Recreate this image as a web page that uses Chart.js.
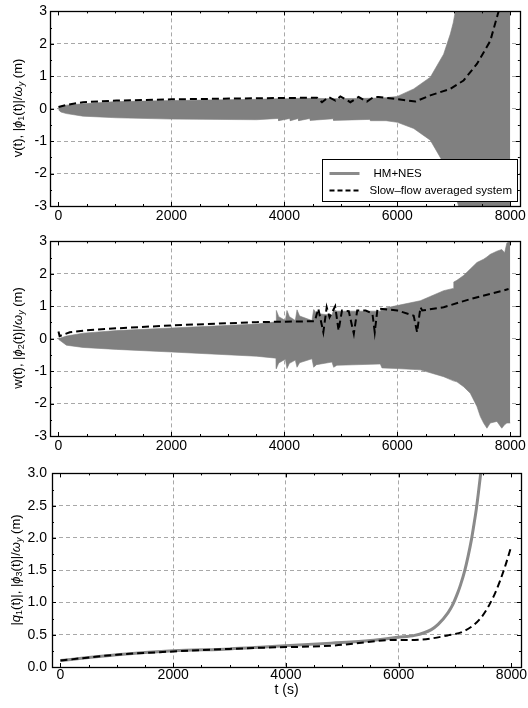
<!DOCTYPE html>
<html><head><meta charset="utf-8">
<script src="https://cdn.jsdelivr.net/npm/chart.js@4.4.1/dist/chart.umd.min.js"></script>
<style>
html,body{margin:0;padding:0;background:#fff}
body{width:528px;height:708px;overflow:hidden;position:relative;font-family:"Liberation Sans",Arial,sans-serif}
canvas{position:absolute;left:0}
.yt{position:absolute;transform:translate(-50%,-50%) rotate(-90deg);white-space:nowrap;font-size:13px;color:#000;line-height:1}
.yt sub{font-size:9px;vertical-align:-2px}
</style></head><body>
<canvas id="c1" width="528" height="230" style="top:0"></canvas>
<canvas id="c2" width="528" height="230" style="top:230px"></canvas>
<canvas id="c3" width="528" height="248" style="top:460px"></canvas>
<div class="yt" style="left:18px;top:108px">v(t), |<i>ϕ</i><sub>1</sub>(t)|/<i>ω</i><sub><i>y</i></sub> (m)</div>
<div class="yt" style="left:18px;top:338px">w(t), |<i>ϕ</i><sub>2</sub>(t)|/<i>ω</i><sub><i>y</i></sub> (m)</div>
<div class="yt" style="left:16px;top:570px">|<i>q</i><sub>1</sub>(t)|, |<i>ϕ</i><sub>3</sub>(t)|/<i>ω</i><sub><i>y</i></sub> (m)</div>
<script>
// ---------- data ----------
const xTicks = [0, 2000, 4000, 6000, 8000];
const yTicksTop = [-3, -2, -1, 0, 1, 2, 3];
const yTicksBottom = [0.0, 0.5, 1.0, 1.5, 2.0, 2.5, 3.0];
const legendLabels = ["HM+NES", "Slow\u2013flow averaged system"];
const xTitle = "t (s)";

// Panel 1: HM+NES oscillation envelope (upper / lower, common time grid) and slow-flow amplitude
const t1Env   = [0, 40, 140, 435, 1030, 2000, 3506, 3895, 3900, 4100, 4106, 4250, 4254, 4455, 4460, 4868, 4873, 5515, 5522, 5800, 6000, 6290, 6584, 6820, 6938, 6990, 7027, 7086, 7150, 8000];
const v1Upper = [0.02, 0.07, 0.11, 0.15, 0.22, 0.25, 0.29, 0.31, 0.31, 0.31, 0.31, 0.32, 0.32, 0.32, 0.32, 0.31, 0.31, 0.32, 0.32, 0.34, 0.38, 0.61, 0.97, 1.68, 2.3, 2.65, 3.0, 3.4, 3.6, 3.6];
const v1Lower = [-0.03, -0.1, -0.15, -0.23, -0.28, -0.32, -0.34, -0.3, -0.37, -0.3, -0.37, -0.3, -0.37, -0.3, -0.36, -0.31, -0.36, -0.33, -0.37, -0.37, -0.42, -0.61, -0.97, -1.68, -2.05, -2.4, -2.7, -3.0, -3.6, -3.6];
const t1Slow = [0, 150, 435, 1030, 2000, 3500, 4000, 4577, 4666, 4784, 4903, 4991, 5168, 5315, 5462, 5580, 5669, 6112, 6319, 6584, 6938, 7173, 7409, 7646, 7793, 7850];
const v1Slow = [0.05, 0.12, 0.2, 0.25, 0.29, 0.32, 0.33, 0.34, 0.2, 0.36, 0.25, 0.38, 0.2, 0.36, 0.22, 0.36, 0.36, 0.27, 0.22, 0.41, 0.61, 0.87, 1.38, 2.09, 3.0, 3.4];

// Panel 2
const t2Env   = [0, 140, 435, 1030, 2000, 3506, 3855, 3858, 3900, 4018, 4046, 4090, 4194, 4224, 4270, 4489, 4519, 4570, 4843, 4873, 4930, 5699, 5728, 5994, 6407, 6820, 6990, 7000, 7055, 7174, 7292, 7410, 7470, 7528, 7587, 7646, 7764, 7850, 7900, 7940, 8000];
const v2Upper = [0.0, 0.08, 0.17, 0.25, 0.33, 0.45, 0.52, 0.87, 0.68, 0.56, 0.87, 0.68, 0.56, 0.89, 0.7, 0.56, 0.9, 0.78, 0.72, 0.9, 0.85, 0.85, 0.92, 1.02, 1.17, 1.48, 1.55, 1.75, 1.8, 1.95, 2.15, 2.35, 2.4, 2.45, 2.52, 2.6, 2.7, 2.75, 2.65, 2.95, 3.0];
const v2Lower = [-0.02, -0.2, -0.27, -0.33, -0.41, -0.54, -0.6, -0.92, -0.75, -0.63, -0.92, -0.76, -0.66, -0.88, -0.74, -0.62, -0.88, -0.8, -0.72, -0.88, -0.82, -0.78, -0.9, -0.92, -0.96, -1.17, -1.3, -1.3, -1.33, -1.48, -1.68, -2.09, -2.4, -2.6, -2.76, -2.6, -2.55, -2.76, -2.65, -2.6, -2.6];
const t2Slow = [0, 20, 200, 500, 1030, 2000, 3500, 4540, 4600, 4690, 4750, 4800, 4900, 4960, 5020, 5140, 5230, 5290, 5440, 5560, 5600, 5650, 6000, 6290, 6350, 6410, 6440, 6820, 7290, 7760, 7970];
const v2Slow = [0.22, 0.08, 0.2, 0.26, 0.32, 0.41, 0.51, 0.54, 0.93, 0.2, 0.97, 0.66, 1.0, 0.25, 0.87, 0.85, 0.15, 0.87, 0.87, 0.77, 0.2, 0.93, 0.87, 0.71, 0.2, 0.97, 0.87, 0.97, 1.22, 1.43, 1.53];

// Panel 3
const t3Hm = [0, 1000, 2000, 3000, 3618, 4802, 5500, 5986, 6283, 6579, 6700, 6874, 6950, 7052, 7100, 7171, 7230, 7290, 7330, 7378, 7420, 7455, 7480];
const v3Hm = [0.1, 0.19, 0.25, 0.28, 0.31, 0.37, 0.41, 0.46, 0.49, 0.58, 0.66, 0.84, 0.95, 1.16, 1.28, 1.49, 1.71, 1.97, 2.18, 2.45, 2.74, 3.0, 3.2];
const t3Slow = [0, 1000, 2000, 3000, 3618, 4802, 5986, 6283, 6874, 7171, 7467, 7703, 7881, 7990];
const v3Slow = [0.1, 0.19, 0.24, 0.28, 0.3, 0.33, 0.42, 0.42, 0.49, 0.56, 0.77, 1.13, 1.54, 1.85];

// ---------- helpers ----------
const FONT = '"Liberation Sans", Arial, sans-serif';
Chart.defaults.font.family = FONT;
Chart.defaults.color = '#000';
const GRAY = '#808080';
const pts = (t, v) => t.map((x, i) => ({x, y: v[i]}));

const framePlugin = {
  id: 'frame',
  afterDatasetsDraw(chart, args, o) {
    const {ctx, chartArea: a, scales: {x, y}} = chart;
    ctx.save();
    ctx.strokeStyle = '#000';
    ctx.lineWidth = 1;
    ctx.beginPath();
    for (let k = 0; k * o.xMinor <= o.xMax; k++) {
      const v = k * o.xMinor;
      const px = Math.round(x.getPixelForValue(v)) + 0.5;
      const len = (k % o.xRatio === 0) ? 4 : 2;
      ctx.moveTo(px, a.bottom); ctx.lineTo(px, a.bottom - len);
      ctx.moveTo(px, a.top); ctx.lineTo(px, a.top + len);
    }
    for (let k = 0; o.yMin + k * o.yMinor <= o.yMax + 1e-9; k++) {
      const v = o.yMin + k * o.yMinor;
      const py = Math.round(y.getPixelForValue(v)) + 0.5;
      const len = (k % o.yRatio === 0) ? 4 : 2;
      ctx.moveTo(a.left, py); ctx.lineTo(a.left + len, py);
      ctx.moveTo(a.right, py); ctx.lineTo(a.right - len, py);
    }
    ctx.stroke();
    ctx.lineWidth = 1.3;
    ctx.strokeRect(Math.round(a.left) + 0.5, Math.round(a.top) + 0.5, Math.round(a.right - a.left), Math.round(a.bottom - a.top));
    ctx.restore();
  }
};

const legendPlugin = {
  id: 'boxLegend',
  afterDraw(chart, args, o) {
    if (!o.show) return;
    const {ctx, chartArea: a} = chart;
    const w = 195, h = 42;
    const L = Math.round(a.right - 3 - w) + 0.5, T = Math.round(a.bottom - 5 - h) + 0.5;
    ctx.save();
    ctx.fillStyle = '#fff';
    ctx.fillRect(L, T, w, h);
    ctx.strokeStyle = '#000'; ctx.lineWidth = 1;
    ctx.strokeRect(L, T, w, h);
    ctx.strokeStyle = '#8a8a8a'; ctx.lineWidth = 3;
    ctx.beginPath(); ctx.moveTo(L + 7, T + 14); ctx.lineTo(L + 37, T + 14); ctx.stroke();
    ctx.strokeStyle = '#000'; ctx.lineWidth = 2; ctx.setLineDash([5, 3]);
    ctx.beginPath(); ctx.moveTo(L + 7, T + 31); ctx.lineTo(L + 37, T + 31); ctx.stroke();
    ctx.setLineDash([]);
    ctx.fillStyle = '#000';
    ctx.font = '11.5px ' + FONT;
    ctx.textBaseline = 'middle';
    ctx.fillText(legendLabels[0], L + 51, T + 14);
    ctx.fillText(legendLabels[1], L + 47, T + 31);
    ctx.restore();
  }
};

function xScale(height, pad, opts = {}) {
  return Object.assign({
    type: 'linear', min: -150, max: 8170,
    afterBuildTicks: s => { s.ticks = xTicks.map(v => ({value: v})); },
    afterFit: s => { s.height = height; },
    ticks: {padding: pad, font: {size: 14}, color: '#000', maxRotation: 0, autoSkip: false, callback: v => String(v)},
    grid: {drawTicks: false, lineWidth: 1,
      color: c => (c.tick && (c.tick.value === 0 || c.tick.value === 8000)) ? 'rgba(0,0,0,0)' : '#a8a8a8'},
    border: {display: false, dash: [4, 3]}
  }, opts);
}
function yScale(width, min, max, ticks, pad, fmt) {
  return {
    type: 'linear', min, max,
    afterBuildTicks: s => { s.ticks = ticks.map(v => ({value: v})); },
    afterFit: s => { s.width = width; },
    ticks: {padding: pad, font: {size: 14}, color: '#000', autoSkip: false, callback: fmt},
    grid: {drawTicks: false, lineWidth: 1,
      color: c => (c.tick && (c.tick.value === min || c.tick.value === max)) ? 'rgba(0,0,0,0)' : '#a8a8a8'},
    border: {display: false, dash: [4, 3]}
  };
}
function envelopeDatasets(te, vu, vl, ts, vs) {
  return [
    {data: pts(ts, vs), borderColor: '#000', borderWidth: 2, borderDash: [7, 4], pointRadius: 0, fill: false, tension: 0},
    {data: pts(te, vu), borderColor: GRAY, backgroundColor: GRAY, borderWidth: 0.6, pointRadius: 0, fill: '+1', tension: 0},
    {data: pts(te, vl), borderColor: GRAY, backgroundColor: GRAY, borderWidth: 0.6, pointRadius: 0, fill: false, tension: 0}
  ];
}
const common = {
  responsive: false, animation: false, events: [],
  plugins: {legend: {display: false}, tooltip: {enabled: false}}
};

new Chart(document.getElementById('c1'), {
  type: 'line',
  data: {datasets: envelopeDatasets(t1Env, v1Upper, v1Lower, t1Slow, v1Slow)},
  options: Object.assign({}, common, {
    layout: {padding: {top: 10, right: 8, left: 0, bottom: 0}},
    scales: {x: xScale(24, 2), y: yScale(50, -3, 3, yTicksTop, 3, v => String(v))},
    plugins: Object.assign({}, common.plugins, {
      frame: {xMinor: 500, xRatio: 4, xMax: 8000, yMin: -3, yMax: 3, yMinor: 0.5, yRatio: 2},
      boxLegend: {show: true}
    })
  }),
  plugins: [framePlugin, legendPlugin]
});

new Chart(document.getElementById('c2'), {
  type: 'line',
  data: {datasets: envelopeDatasets(t2Env, v2Upper, v2Lower, t2Slow, v2Slow)},
  options: Object.assign({}, common, {
    layout: {padding: {top: 10, right: 8, left: 0, bottom: 0}},
    scales: {x: xScale(24, 2), y: yScale(50, -3, 3, yTicksTop, 3, v => String(v))},
    plugins: Object.assign({}, common.plugins, {
      frame: {xMinor: 500, xRatio: 4, xMax: 8000, yMin: -3, yMax: 3, yMinor: 0.5, yRatio: 2},
      boxLegend: {show: false}
    })
  }),
  plugins: [framePlugin, legendPlugin]
});

new Chart(document.getElementById('c3'), {
  type: 'line',
  data: {datasets: [
    {data: pts(t3Slow, v3Slow), borderColor: '#000', borderWidth: 2, borderDash: [7, 4], pointRadius: 0, fill: false, cubicInterpolationMode: 'monotone'},
    {data: pts(t3Hm, v3Hm), borderColor: '#8a8a8a', borderWidth: 3, pointRadius: 0, fill: false, cubicInterpolationMode: 'monotone'}
  ]},
  options: Object.assign({}, common, {
    layout: {padding: {top: 12, right: 7, left: 0, bottom: 0}},
    scales: {
      x: xScale(41, 0, {title: {display: true, text: xTitle, font: {size: 14}, color: '#000', padding: {top: 0, bottom: 9}}}),
      y: yScale(52, 0, 3, yTicksBottom, 5, v => v.toFixed(1))
    },
    plugins: Object.assign({}, common.plugins, {
      frame: {xMinor: 500, xRatio: 4, xMax: 8000, yMin: 0, yMax: 3, yMinor: 0.25, yRatio: 2},
      boxLegend: {show: false}
    })
  }),
  plugins: [framePlugin, legendPlugin]
});
</script>
</body></html>
